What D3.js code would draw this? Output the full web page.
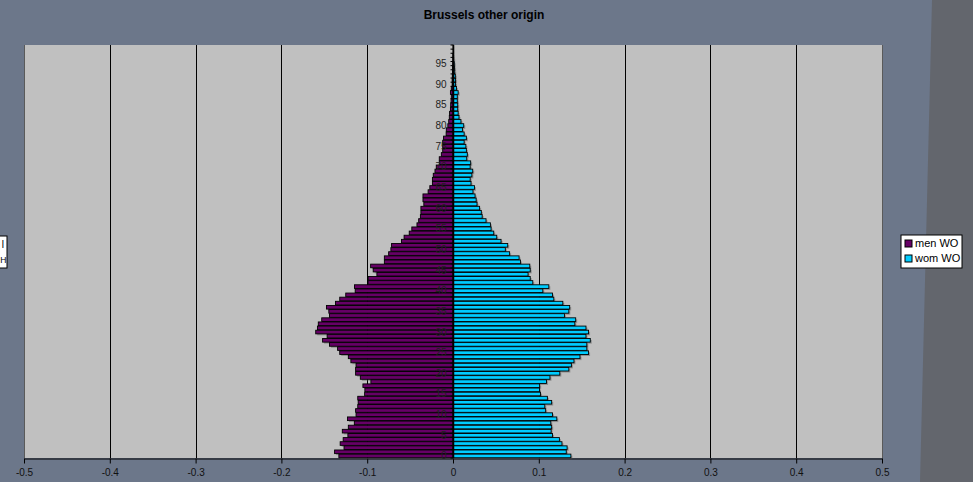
<!DOCTYPE html>
<html>
<head>
<meta charset="utf-8">
<script src="https://cdn.jsdelivr.net/npm/d3@7"></script>
<style>
  body { margin: 0; background: #6c778a; }
  svg { display: block; font-family: Arial, "Liberation Sans", sans-serif; }
</style>
</head>
<body>
<svg id="svg1" width="973" height="482"></svg>
<script>
var width = 973, height = 482;

// data: share per age, men stored negative
var ages = d3.range(0, 100);
var menWO = [-0.133,-0.138,-0.127,-0.1315,-0.128,-0.1225,-0.129,-0.122,-0.115,-0.123,
  -0.113,-0.1135,-0.111,-0.1105,-0.111,-0.103,-0.1027,-0.105,-0.0957,-0.108,
  -0.1135,-0.1135,-0.113,-0.119,-0.122,-0.132,-0.1345,-0.144,-0.152,-0.1467,
  -0.160,-0.158,-0.157,-0.153,-0.144,-0.1447,-0.1475,-0.137,-0.132,-0.125,
  -0.114,-0.1148,-0.099,-0.0988,-0.0887,-0.093,-0.096,-0.080,-0.080,-0.075,
  -0.0724,-0.0716,-0.060,-0.057,-0.051,-0.048,-0.042,-0.040,-0.038,-0.0374,
  -0.0374,-0.034,-0.035,-0.035,-0.029,-0.027,-0.024,-0.024,-0.023,-0.021,
  -0.0195,-0.016,-0.016,-0.0136,-0.012,-0.012,-0.012,-0.011,-0.008,-0.0078,
  -0.006,-0.005,-0.0043,-0.004,-0.003,-0.0027,-0.0023,-0.002,-0.003,-0.002,
  -0.001,-0.001,-0.0008,-0.0006,-0.0005,-0.0003,-0.0002,-0.0001,0,0];
var womWO = [0.1374,0.132,0.133,0.127,0.124,0.116,0.1144,0.115,0.114,0.121,
  0.116,0.108,0.107,0.115,0.110,0.102,0.1008,0.101,0.109,0.113,
  0.1245,0.135,0.138,0.141,0.148,0.158,0.156,0.156,0.160,0.155,
  0.158,0.155,0.142,0.143,0.130,0.135,0.136,0.128,0.1175,0.116,
  0.1047,0.1117,0.093,0.090,0.0875,0.090,0.0895,0.0786,0.077,0.066,
  0.061,0.0638,0.056,0.051,0.0475,0.0444,0.0436,0.0385,0.034,0.033,
  0.031,0.028,0.027,0.0257,0.0233,0.025,0.021,0.020,0.022,0.023,
  0.020,0.0206,0.016,0.0167,0.0156,0.015,0.013,0.0156,0.013,0.011,
  0.0125,0.0093,0.007,0.006,0.0055,0.0055,0.005,0.005,0.006,0.004,
  0.003,0.003,0.0027,0.002,0.0018,0.0015,0.0008,0.0005,0.0003,0.0002];
var xTicks = [-0.5,-0.4,-0.3,-0.2,-0.1,0,0.1,0.2,0.3,0.4,0.5];
var xTickLabels = ["-0.5","-0.4","-0.3","-0.2","-0.1","0","0.1","0.2","0.3","0.4","0.5"];
var seriesNames = ["men WO", "wom WO"];
var seriesColors = ["#660066", "#00ccff"];

var plotLeft = 24, plotRight = 882, plotTop = 45, plotBottom = 458;

var svg = d3.select("#svg1");

// background with darker right part
svg.append("rect").attr("width", width).attr("height", height).attr("fill", "#6c778a");
svg.append("path")
    .attr("d", "M932,0 L973,0 L973,482 L920,482 Z")
    .attr("fill", "#63666d");

svg.append("text")
    .attr("x", 484).attr("y", 19)
    .attr("text-anchor", "middle")
    .attr("font-size", 12).attr("font-weight", "bold")
    .attr("fill", "#000")
    .text("Brussels other origin");

var x = d3.scaleLinear().domain([-0.5, 0.5]).range([plotLeft, plotRight]);
var y = d3.scaleBand().domain(ages).range([plotBottom, plotTop]).paddingInner(0.12).paddingOuter(0.06);
var yStep = (plotBottom - plotTop) / ages.length;

// plot area
svg.append("rect")
    .attr("x", plotLeft).attr("y", plotTop)
    .attr("width", plotRight - plotLeft).attr("height", plotBottom - plotTop)
    .attr("fill", "#c0c0c0");

svg.selectAll(".grid")
    .data(xTicks)
    .enter()
    .append("line")
      .attr("class", "grid")
      .attr("x1", function(d) { return Math.round(x(d)) + 0.5; })
      .attr("x2", function(d) { return Math.round(x(d)) + 0.5; })
      .attr("y1", plotTop).attr("y2", plotBottom)
      .attr("stroke", function(d, i) { return (i == 0 || i == xTicks.length - 1) ? "#5a5a5a" : "#000"; })
      .attr("stroke-width", 1);

// x axis
var xAxis = svg.append("g")
    .attr("transform", "translate(0," + (plotBottom + 0.5) + ")")
    .call(d3.axisBottom(x).tickValues(xTicks).tickSize(5).tickSizeOuter(0)
      .tickFormat(function(d, i) { return xTickLabels[i]; }));
xAxis.select(".domain").attr("stroke", "#000");
xAxis.selectAll(".tick line").attr("stroke", "#000");
xAxis.selectAll("text").attr("font-size", 10).attr("fill", "#111").attr("dy", "0.9em")
    .attr("font-family", "'Liberation Sans Narrow', Arial, sans-serif");

// bars
var rows = ages.map(function(a, i) { return { age: a, men: menWO[i], wom: womWO[i] }; });

function barRect(sel, key, dx, dy) {
  sel.attr("x", function(d) { return Math.min(x(0), x(d[key])) + dx; })
     .attr("y", function(d) { return y(d.age) + dy; })
     .attr("width", function(d) { return Math.abs(x(d[key]) - x(0)); })
     .attr("height", y.bandwidth());
}

["men", "wom"].forEach(function(key, k) {
  svg.selectAll(".shadow-" + key)
      .data(rows.filter(function(d) { return d[key] != 0; }))
      .enter()
      .append("rect")
        .attr("class", "shadow-" + key)
        .call(barRect, key, 1.5, 1.5)
        .attr("fill", "#555")
        .attr("opacity", 0.45);
});

["men", "wom"].forEach(function(key, k) {
  svg.selectAll(".bar-" + key)
      .data(rows.filter(function(d) { return d[key] != 0; }))
      .enter()
      .append("rect")
        .attr("class", "bar-" + key)
        .call(barRect, key, 0, 0)
        .attr("fill", seriesColors[k])
        .attr("stroke", "#000")
        .attr("stroke-width", 0.9);
});

// category axis at zero
var zx = Math.round(x(0)) + 0.5;
svg.append("line")
    .attr("x1", zx).attr("x2", zx).attr("y1", plotTop).attr("y2", plotBottom)
    .attr("stroke", "#000").attr("stroke-width", 1.5);

svg.selectAll(".ytick")
    .data(d3.range(0, ages.length + 1))
    .enter()
    .append("line")
      .attr("class", "ytick")
      .attr("x1", zx - 3).attr("x2", zx)
      .attr("y1", function(i) { return plotBottom - i * yStep; })
      .attr("y2", function(i) { return plotBottom - i * yStep; })
      .attr("stroke", "#000");

svg.selectAll(".ylabel")
    .data(ages.filter(function(a) { return a % 5 == 0; }))
    .enter()
    .append("text")
      .attr("class", "ylabel")
      .attr("x", zx - 7)
      .attr("y", function(d) { return y(d) + y.bandwidth() / 2; })
      .attr("dy", "0.35em")
      .attr("text-anchor", "end")
      .attr("font-size", 10)
      .attr("fill", "#222")
      .text(function(d) { return d; });

// legend
var legend = svg.append("g").attr("transform", "translate(901,235)");
legend.append("rect").attr("width", 61).attr("height", 33)
    .attr("fill", "#fff").attr("stroke", "#000");
seriesNames.forEach(function(name, i) {
  legend.append("rect")
      .attr("x", 4).attr("y", 5 + i * 15).attr("width", 7).attr("height", 7)
      .attr("fill", seriesColors[i]).attr("stroke", "#000");
  legend.append("text")
      .attr("x", 14).attr("y", 12 + i * 15)
      .attr("font-size", 11).attr("fill", "#000")
      .text(name);
});

// edge of a neighbouring legend box at the left border
var leftBox = svg.append("g").attr("transform", "translate(-50,236)");
leftBox.append("rect").attr("width", 57).attr("height", 32)
    .attr("fill", "#fff").attr("stroke", "#000");
leftBox.append("text").attr("x", 54).attr("y", 12).attr("text-anchor", "end")
    .attr("font-size", 10).text("l");
leftBox.append("text").attr("x", 56.5).attr("y", 27).attr("text-anchor", "end")
    .attr("font-size", 8.5).text("H");
</script>
</body>
</html>
